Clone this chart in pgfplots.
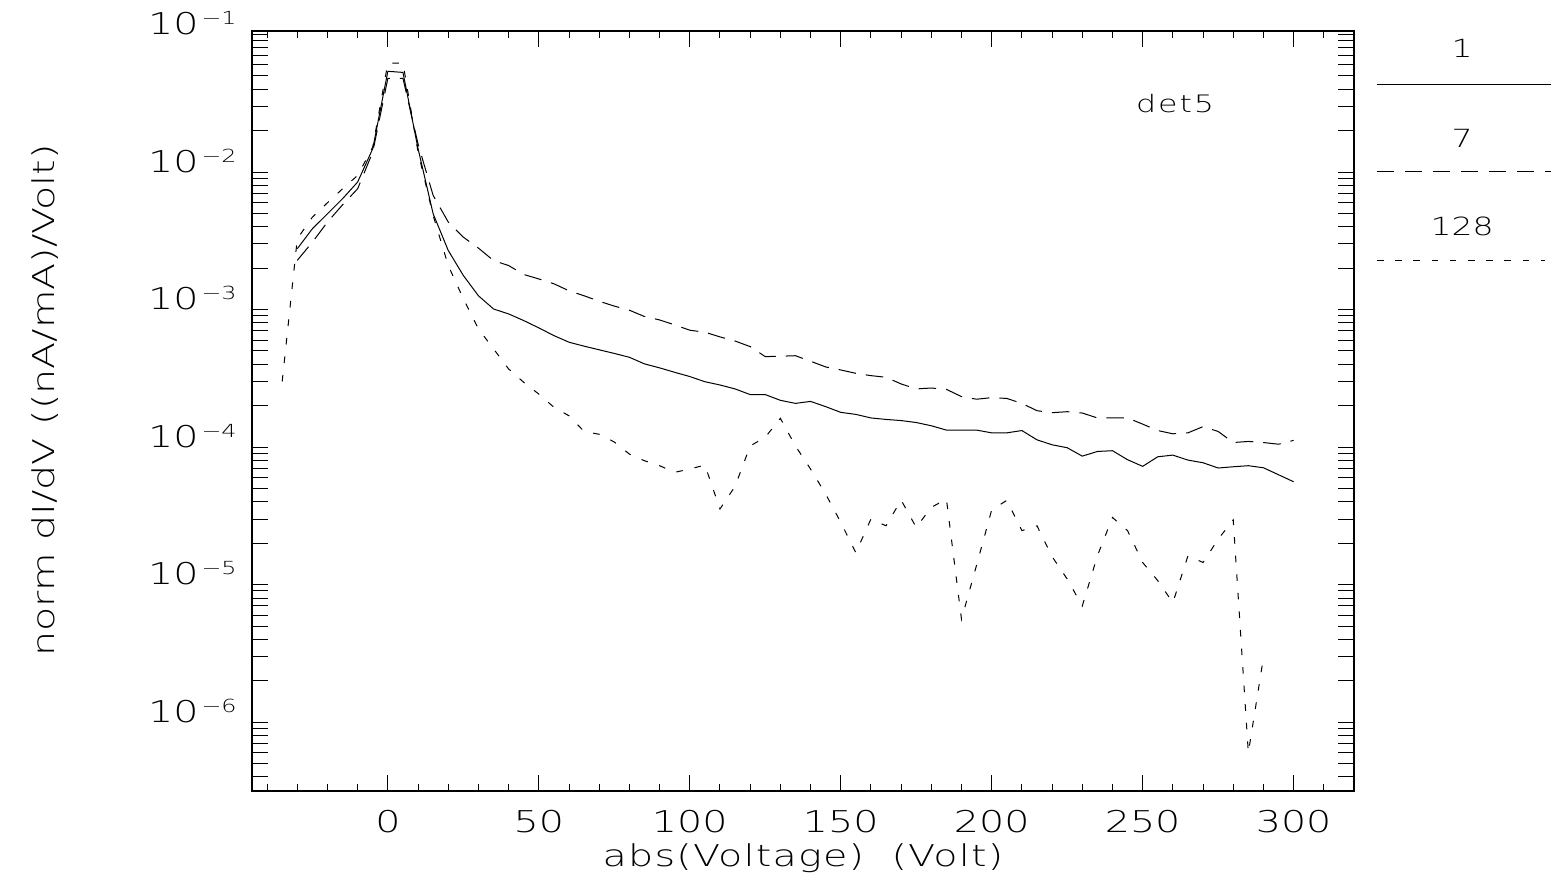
\documentclass[border=0pt]{standalone}
\usepackage{pgfplots}
\pgfplotsset{compat=1.18}
\usepackage{fontspec}
\setmainfont{DejaVu Sans ExtraLight}[FakeStretch=1.32]
\newcommand\tl[1]{10\hspace{1.5pt}\raisebox{5pt}{\fontsize{9}{9}\selectfont −#1}}
\newcommand\lblfont{\fontsize{15}{15}\selectfont}
\begin{document}
\begin{tikzpicture}
\useasboundingbox (-126pt,-46pt) rectangle (649.5pt,395.5pt);
\begin{axis}[
  scale only axis, width=551pt, height=380pt,
  ymode=log, xmin=-45, xmax=320, ymin=3.162e-7, ymax=0.106,
  xtick={0,50,100,150,200,250,300},
  xticklabels={0,50,100,150,200,250,300},
  minor xtick={-40,-30,...,310},
  ytick={4e-7,5e-7,6e-7,7e-7,8e-7,9e-7,
    1e-6,2e-6,3e-6,4e-6,5e-6,6e-6,7e-6,8e-6,9e-6,
    1e-5,2e-5,3e-5,4e-5,5e-5,6e-5,7e-5,8e-5,9e-5,
    1e-4,2e-4,3e-4,4e-4,5e-4,6e-4,7e-4,8e-4,9e-4,
    1e-3,2e-3,3e-3,4e-3,5e-3,6e-3,7e-3,8e-3,9e-3,
    1e-2,2e-2,3e-2,4e-2,5e-2,6e-2,7e-2,8e-2,9e-2,1e-1},
  yticklabels={{},{},{},{},{},{},
    \tl{6},{},{},{},{},{},{},{},{},
    \tl{5},{},{},{},{},{},{},{},{},
    \tl{4},{},{},{},{},{},{},{},{},
    \tl{3},{},{},{},{},{},{},{},{},
    \tl{2},{},{},{},{},{},{},{},{},\tl{1}},
  tick align=inside,
  xtick pos=both, ytick pos=both,
  major tick length=8pt, minor tick length=3.5pt,
  axis line style={line width=0.8pt},
  every tick/.style={black,line width=0.5pt},
  xticklabel style={font=\lblfont, anchor=center, yshift=-15.5pt},
  yticklabel style={font=\lblfont, anchor=base east, inner sep=0pt, xshift=-7.5pt},
  xlabel={abs(Voltage)~~(Volt)},
  ylabel={norm dI/dV ((nA/mA)/Volt)},
  xlabel style={font=\lblfont\addfontfeatures{LetterSpace=4}, at={(axis description cs:0.5,-0.088)}, anchor=center},
  ylabel style={font=\lblfont, at={(axis description cs:-0.188,0.514)}, anchor=center},
]
% series 1 (solid)
\addplot[black, line width=0.5pt] coordinates {
(-30,2.77e-3) (-25,3.87e-3) (-20,4.97e-3) (-15,6.4e-3) (-10,8.46e-3) (-5,1.48e-2)
(0,5.4e-2) (5,5.3e-2) (10,1.48e-2) (15,4.97e-3) (20,2.69e-3) (25,1.77e-3)
(30,1.26e-3) (35,1.01e-3) (40,9.3e-4) (45,8.32e-4) (50,7.36e-4) (55,6.47e-4)
(60,5.79e-4) (65,5.42e-4) (70,5.1e-4) (75,4.8e-4) (80,4.5e-4) (85,4.03e-4)
(90,3.77e-4) (95,3.5e-4) (100,3.26e-4) (105,2.99e-4) (110,2.83e-4) (115,2.65e-4)
(120,2.41e-4) (125,2.41e-4) (130,2.19e-4) (135,2.08e-4) (140,2.15e-4) (145,1.97e-4)
(150,1.79e-4) (155,1.73e-4) (160,1.63e-4) (165,1.59e-4) (170,1.56e-4) (175,1.51e-4)
(180,1.43e-4) (185,1.33e-4) (190,1.33e-4) (195,1.33e-4) (200,1.27e-4) (205,1.27e-4)
(210,1.32e-4) (215,1.13e-4) (220,1.04e-4) (225,9.9e-5) (230,8.6e-5) (235,9.3e-5)
(240,9.42e-5) (245,8.1e-5) (250,7.25e-5) (255,8.51e-5) (260,8.75e-5) (265,8.05e-5)
(270,7.7e-5) (275,7.05e-5) (280,7.2e-5) (285,7.33e-5) (290,7.08e-5) (295,6.3e-5)
(300,5.6e-5)
};
% series 7 (long dashes)
\addplot[black, line width=0.5pt, dash pattern=on 8.8pt off 5pt] coordinates {
(-30,2.28e-3) (-25,3.09e-3) (-20,4.33e-3) (-15,5.78e-3) (-10,7.56e-3) (-5,1.40e-2)
(0,4.8e-2) (5,4.8e-2) (10,1.6e-2) (15,6.76e-3) (20,4.33e-3) (25,3.36e-3)
(30,2.80e-3) (35,2.27e-3) (40,2.09e-3) (45,1.80e-3) (50,1.67e-3) (55,1.54e-3)
(60,1.37e-3) (65,1.26e-3) (70,1.15e-3) (75,1.06e-3) (80,9.9e-4) (85,8.9e-4)
(90,8.41e-4) (95,7.74e-4) (100,7.08e-4) (105,6.85e-4) (110,6.33e-4) (115,5.91e-4)
(120,5.38e-4) (125,4.55e-4) (130,4.58e-4) (135,4.62e-4) (140,4.21e-4) (145,3.83e-4)
(150,3.64e-4) (155,3.44e-4) (160,3.31e-4) (165,3.22e-4) (170,2.88e-4) (175,2.65e-4)
(180,2.69e-4) (185,2.63e-4) (190,2.33e-4) (195,2.23e-4) (200,2.29e-4) (205,2.26e-4)
(210,2.08e-4) (215,1.84e-4) (220,1.78e-4) (225,1.81e-4) (230,1.77e-4) (235,1.63e-4)
(240,1.63e-4) (245,1.63e-4) (250,1.47e-4) (255,1.32e-4) (260,1.25e-4) (265,1.27e-4)
(270,1.41e-4) (275,1.30e-4) (280,1.08e-4) (285,1.10e-4) (290,1.08e-4) (295,1.05e-4)
(300,1.12e-4)
};
% series 128 (short dashes)
\addplot[black, line width=0.5pt, dash pattern=on 3.3pt off 6pt] coordinates {
(-35,3.0e-4) (-30,3.27e-3) (-25,4.7e-3) (-20,5.98e-3) (-15,7.56e-3) (-10,9.45e-3)
(-5,1.52e-2) (0,6.2e-2) (5,6.2e-2) (10,1.4e-2) (15,4.83e-3) (20,2.09e-3)
(25,1.20e-3) (30,7.24e-4) (35,5.18e-4) (40,3.70e-4) (45,2.96e-4) (50,2.43e-4)
(55,1.95e-4) (60,1.69e-4) (65,1.30e-4) (70,1.24e-4) (75,1.09e-4) (80,8.9e-5)
(85,7.96e-5) (90,7.33e-5) (95,6.56e-5) (100,6.93e-5) (105,7.41e-5) (110,3.55e-5)
(115,5.19e-5) (120,1.02e-4) (125,1.18e-4) (130,1.62e-4) (135,1.02e-4) (140,6.93e-5)
(145,4.56e-5) (150,2.84e-5) (155,1.71e-5) (160,3.0e-5) (165,2.68e-5) (170,4.12e-5)
(175,2.61e-5) (180,3.65e-5) (185,4.19e-5) (190,5.6e-6) (195,1.39e-5) (200,3.5e-5)
(205,4.1e-5) (210,2.47e-5) (215,2.68e-5) (220,1.6e-5) (225,1.10e-5) (230,7.0e-6)
(235,1.62e-5) (240,3.08e-5) (245,2.47e-5) (250,1.45e-5) (255,1.07e-5) (260,7.4e-6)
(265,1.62e-5) (270,1.45e-5) (275,2.14e-5) (280,2.96e-5) (285,6.0e-7) (290,2.95e-6)
};
\node[font=\fontsize{12}{12}\selectfont\addfontfeatures{LetterSpace=8}] at (axis description cs:0.8376,0.905) {det5};
\end{axis}
% legend
\node[font=\fontsize{12.5}{12.5}\selectfont] at (605pt,371.5pt) {1};
\draw[black, line width=0.5pt] (562.5pt,353pt) -- (649.5pt,353pt);
\node[font=\fontsize{12.5}{12.5}\selectfont] at (605pt,326.5pt) {7};
\draw[black, line width=0.5pt, dash pattern=on 8.5pt off 5.5pt] (562.5pt,309.5pt) -- (649.5pt,309.5pt);
\node[font=\fontsize{12.5}{12.5}\selectfont] at (605pt,282.5pt) {128};
\draw[black, line width=0.5pt, dash pattern=on 3.3pt off 5.8pt] (562.5pt,265pt) -- (646.5pt,265pt);
\end{tikzpicture}
\end{document}
